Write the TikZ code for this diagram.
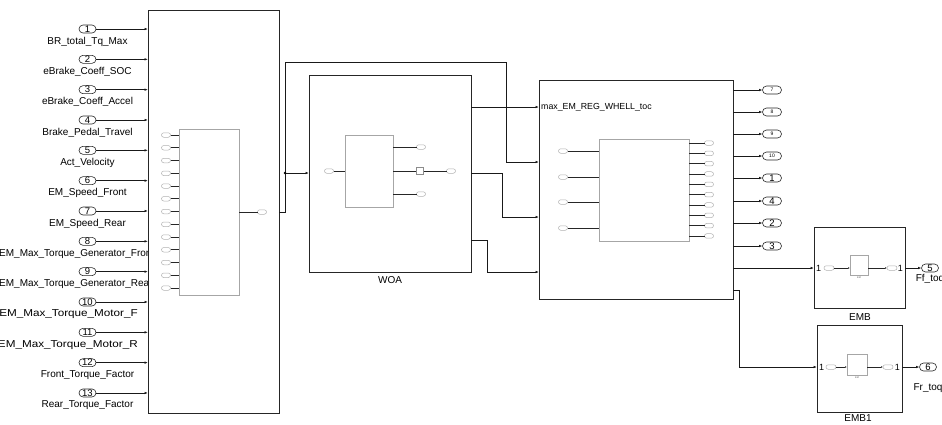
\documentclass[tikz,border=0pt]{standalone}
\usepackage{fontspec}
\setmainfont{Liberation Sans}
\usetikzlibrary{arrows.meta,shapes.misc}
\begin{document}
\begin{tikzpicture}[x=1pt,y=-1pt,
 blk/.style={draw=black!85, fill=white, line width=1pt, inner sep=0pt, outer sep=0pt},
 inblk/.style={draw=black!35, fill=white, line width=0.6pt, inner sep=0pt, outer sep=0pt},
 port/.style={rounded rectangle, draw=black!85, line width=0.6pt, fill=white, minimum width=17pt, minimum height=8pt, inner sep=0pt, outer sep=0pt, font=\fontsize{9.5}{9.5}\selectfont},
 sport/.style={rounded rectangle, draw=black!30, line width=0.5pt, fill=white, minimum width=9pt, minimum height=4.5pt, inner sep=0pt, outer sep=0pt},
 lbl/.style={font=\fontsize{10}{10}\selectfont, inner sep=0pt},
 wire/.style={draw=black!90, line width=0.7pt},
 arr/.style={wire, -{Latex[length=3.5pt,width=2.6pt]}},
 iw/.style={draw=black!85, line width=0.6pt},
 iarr/.style={iw, -{Latex[length=2pt,width=1.6pt]}},
]
\useasboundingbox (0,0) rectangle (942,424);

% ---------- input port labels ----------
\foreach \i/\t in {1/BR\_total\_Tq\_Max, 2/eBrake\_Coeff\_SOC, 3/eBrake\_Coeff\_Accel,
  4/Brake\_Pedal\_Travel, 5/Act\_Velocity, 6/EM\_Speed\_Front, 7/EM\_Speed\_Rear,
  12/Front\_Torque\_Factor, 13/Rear\_Torque\_Factor}{
  \pgfmathsetmacro\yy{29+(\i-1)*30.33}
  \node[lbl] (lab\i) at (87.5,\yy+12.5) {\t};
}
\pgfmathsetmacro\yy{29+7*30.33}
\node[lbl, anchor=west] (lab8) at (-1,\yy+12.5) {EM\_Max\_Torque\_Generator\_Front};
\pgfmathsetmacro\yy{29+8*30.33}
\node[lbl, anchor=west] (lab9) at (-1,\yy+12.5) {EM\_Max\_Torque\_Generator\_Rear};
\pgfmathsetmacro\yy{29+9*30.33}
\node[lbl, anchor=east, xscale=1.17] (lab10) at (138,\yy+12.5) {EM\_Max\_Torque\_Motor\_F};
\pgfmathsetmacro\yy{29+10*30.33}
\node[lbl, anchor=east, xscale=1.17] (lab11) at (138,\yy+12.5) {EM\_Max\_Torque\_Motor\_R};

% ---------- big subsystem ----------
\node[blk, minimum width=131pt, minimum height=403pt] (big) at (213.5,211.5) {};
\foreach \i in {1,...,13}{
  \pgfmathsetmacro\yy{29+(\i-1)*30.33}
  \node[port] (in\i) at (87.5,\yy) {\i};
  \draw[arr] (in\i.east) -- (in\i.east -| big.west);
}
\node[inblk, minimum width=60pt, minimum height=166pt] (bigin) at (209,212) {};
\foreach \k in {1,...,13}{
  \node[sport] (bp\k) at (166,{135+(\k-1)*12.75}) {};
  \draw[iw] (bp\k.east) -- (bp\k.east -| bigin.west);
}
\node[sport] (bpo) at (262,212) {};
\draw[iw] (bpo.west -| bigin.east) -- (bpo.west);

% ---------- WOA ----------
\node[blk, minimum width=162pt, minimum height=197pt] (woa) at (390,173.5) {};
\node[lbl] (woal) at (390,280) {WOA};
\node[inblk, minimum width=48pt, minimum height=72pt] (wi) at (369,171) {};
\node[sport] (wp) at (329,171) {};
\draw[iw] (wp.east) -- (wp.east -| wi.west);
\node[sport] (wo1) at (421,147) {};
\node[sport] (wo3) at (421,194) {};
\node[draw=black!45, fill=white, line width=0.5pt, minimum size=7pt, inner sep=0pt] (wsq) at (420,171) {};
\node[sport] (wo2) at (451,171) {};
\draw[iw] (wo1.west -| wi.east) -- (wo1.west);
\draw[iw] (wo3.west -| wi.east) -- (wo3.west);
\draw[iw] (wsq.west -| wi.east) -- (wsq.west);
\draw[iw] (wsq.east) -- (wo2.west);

% ---------- right subsystem ----------
\node[blk, minimum width=194pt, minimum height=219pt] (rb) at (636,189.5) {};
\node[inner sep=0pt, anchor=west, font=\fontsize{8.8}{9}\selectfont] (rbl) at (541,107) {max\_EM\_REG\_WHELL\_toc};
\node[inblk, minimum width=90pt, minimum height=102pt] (ri) at (644,190) {};
\foreach \k/\y in {1/151,2/177,3/202,4/228}{
  \node[sport] (rp\k) at (563,\y) {};
  \draw[iw] (rp\k.east) -- (rp\k.east -| ri.west);
}
\foreach \k in {1,...,10}{
  \node[sport] (ro\k) at (709,{143+(\k-1)*10.33}) {};
  \draw[iw] (ro\k.west -| ri.east) -- (ro\k.west);
}

% ---------- wires between blocks ----------
\coordinate (c0) at (285,212);
\coordinate (c1) at (285,62);
\coordinate (c2) at (506,62);
\coordinate (y162) at (0,162);
\coordinate (j1) at (285,173);
\draw[arr] (big.east |- bpo) -- (c0) -- (c1) -- (c2) |- (rb.west |- y162);
\draw[arr] (j1) -- (j1 -| woa.west);
\fill (j1) circle (1.3pt);

\coordinate (ya) at (0,107);
\draw[arr] (woa.east |- ya) -- (rb.west |- ya);
\coordinate (yb) at (0,173);
\coordinate (kb) at (502,217);
\draw[arr] (woa.east |- yb) -| (kb) -- (rb.west |- kb);
\coordinate (yc) at (0,240);
\coordinate (kc) at (487,272);
\draw[arr] (woa.east |- yc) -| (kc) -- (rb.west |- kc);

% ---------- output ports ----------
\foreach \k/\y/\n in {1/90/7, 2/112/8, 3/134/9, 4/156/10}{
  \node[port, minimum width=19pt, font=\fontsize{5}{5}\selectfont] (op\k) at (772,\y) {\n};
  \draw[arr] (rb.east |- op\k) -- (op\k.west);
}
\foreach \k/\y/\n in {5/178/1, 6/201/4, 7/223/2, 8/246/3}{
  \node[port, minimum width=19pt] (op\k) at (772,\y) {\n};
  \draw[arr] (rb.east |- op\k) -- (op\k.west);
}

% ---------- EMB ----------
\node[blk, minimum width=91pt, minimum height=81pt] (emb) at (859.5,267.5) {};
\node[lbl] (embl) at (860,317) {EMB};
\coordinate (ye) at (0,268);
\draw[arr] (rb.east |- ye) -- (emb.west |- ye);
\node[lbl, font=\fontsize{9}{9}\selectfont, anchor=west] (e1in) at (816,268) {1};
\node[sport, minimum width=10pt] (eip) at (829,268) {};
\node[inblk, minimum width=18pt, minimum height=20pt] (eb) at (859,265) {};
\node[inner sep=0pt, font=\fontsize{2.5}{2.5}\selectfont, text=black!60] (ebt) at (859,278) {EM};
\node[sport, minimum width=10pt] (eop) at (892,268) {};
\node[lbl, font=\fontsize{9}{9}\selectfont, anchor=east] (e1out) at (903,268) {1};
\draw[iarr] (eip.east) -- (eip.east -| eb.west);
\draw[iarr] (eop.west -| eb.east) -- (eop.west);
\node[port] (p5) at (930,268) {5};
\draw[arr] (emb.east |- p5) -- (p5.west);
\node[lbl] (ff) at (930,279) {Ff\_toq};

% ---------- EMB1 ----------
\node[blk, minimum width=85pt, minimum height=87pt] (emb1) at (859.5,368.5) {};
\node[lbl] (emb1l) at (858,418) {EMB1};
\coordinate (yf) at (0,290);
\coordinate (kf) at (739,367);
\draw[arr] (rb.east |- yf) -| (kf) -- (emb1.west |- kf);
\node[lbl, font=\fontsize{9}{9}\selectfont, anchor=west] (f1in) at (819,367) {1};
\node[sport, minimum width=10pt] (fip) at (831,367) {};
\node[inblk, minimum width=20pt, minimum height=21pt] (fb) at (857,364.5) {};
\node[inner sep=0pt, font=\fontsize{2.5}{2.5}\selectfont, text=black!60] (fbt) at (857,378) {EM};
\node[sport, minimum width=10pt] (fop) at (888,367) {};
\node[lbl, font=\fontsize{9}{9}\selectfont, anchor=east] (f1out) at (900,367) {1};
\draw[iarr] (fip.east) -- (fip.east -| fb.west);
\draw[iarr] (fop.west -| fb.east) -- (fop.west);
\node[port] (p6) at (928,367) {6};
\draw[arr] (emb1.east |- p6) -- (p6.west);
\node[lbl] (fr) at (928,388) {Fr\_toq};
\end{tikzpicture}
\end{document}
